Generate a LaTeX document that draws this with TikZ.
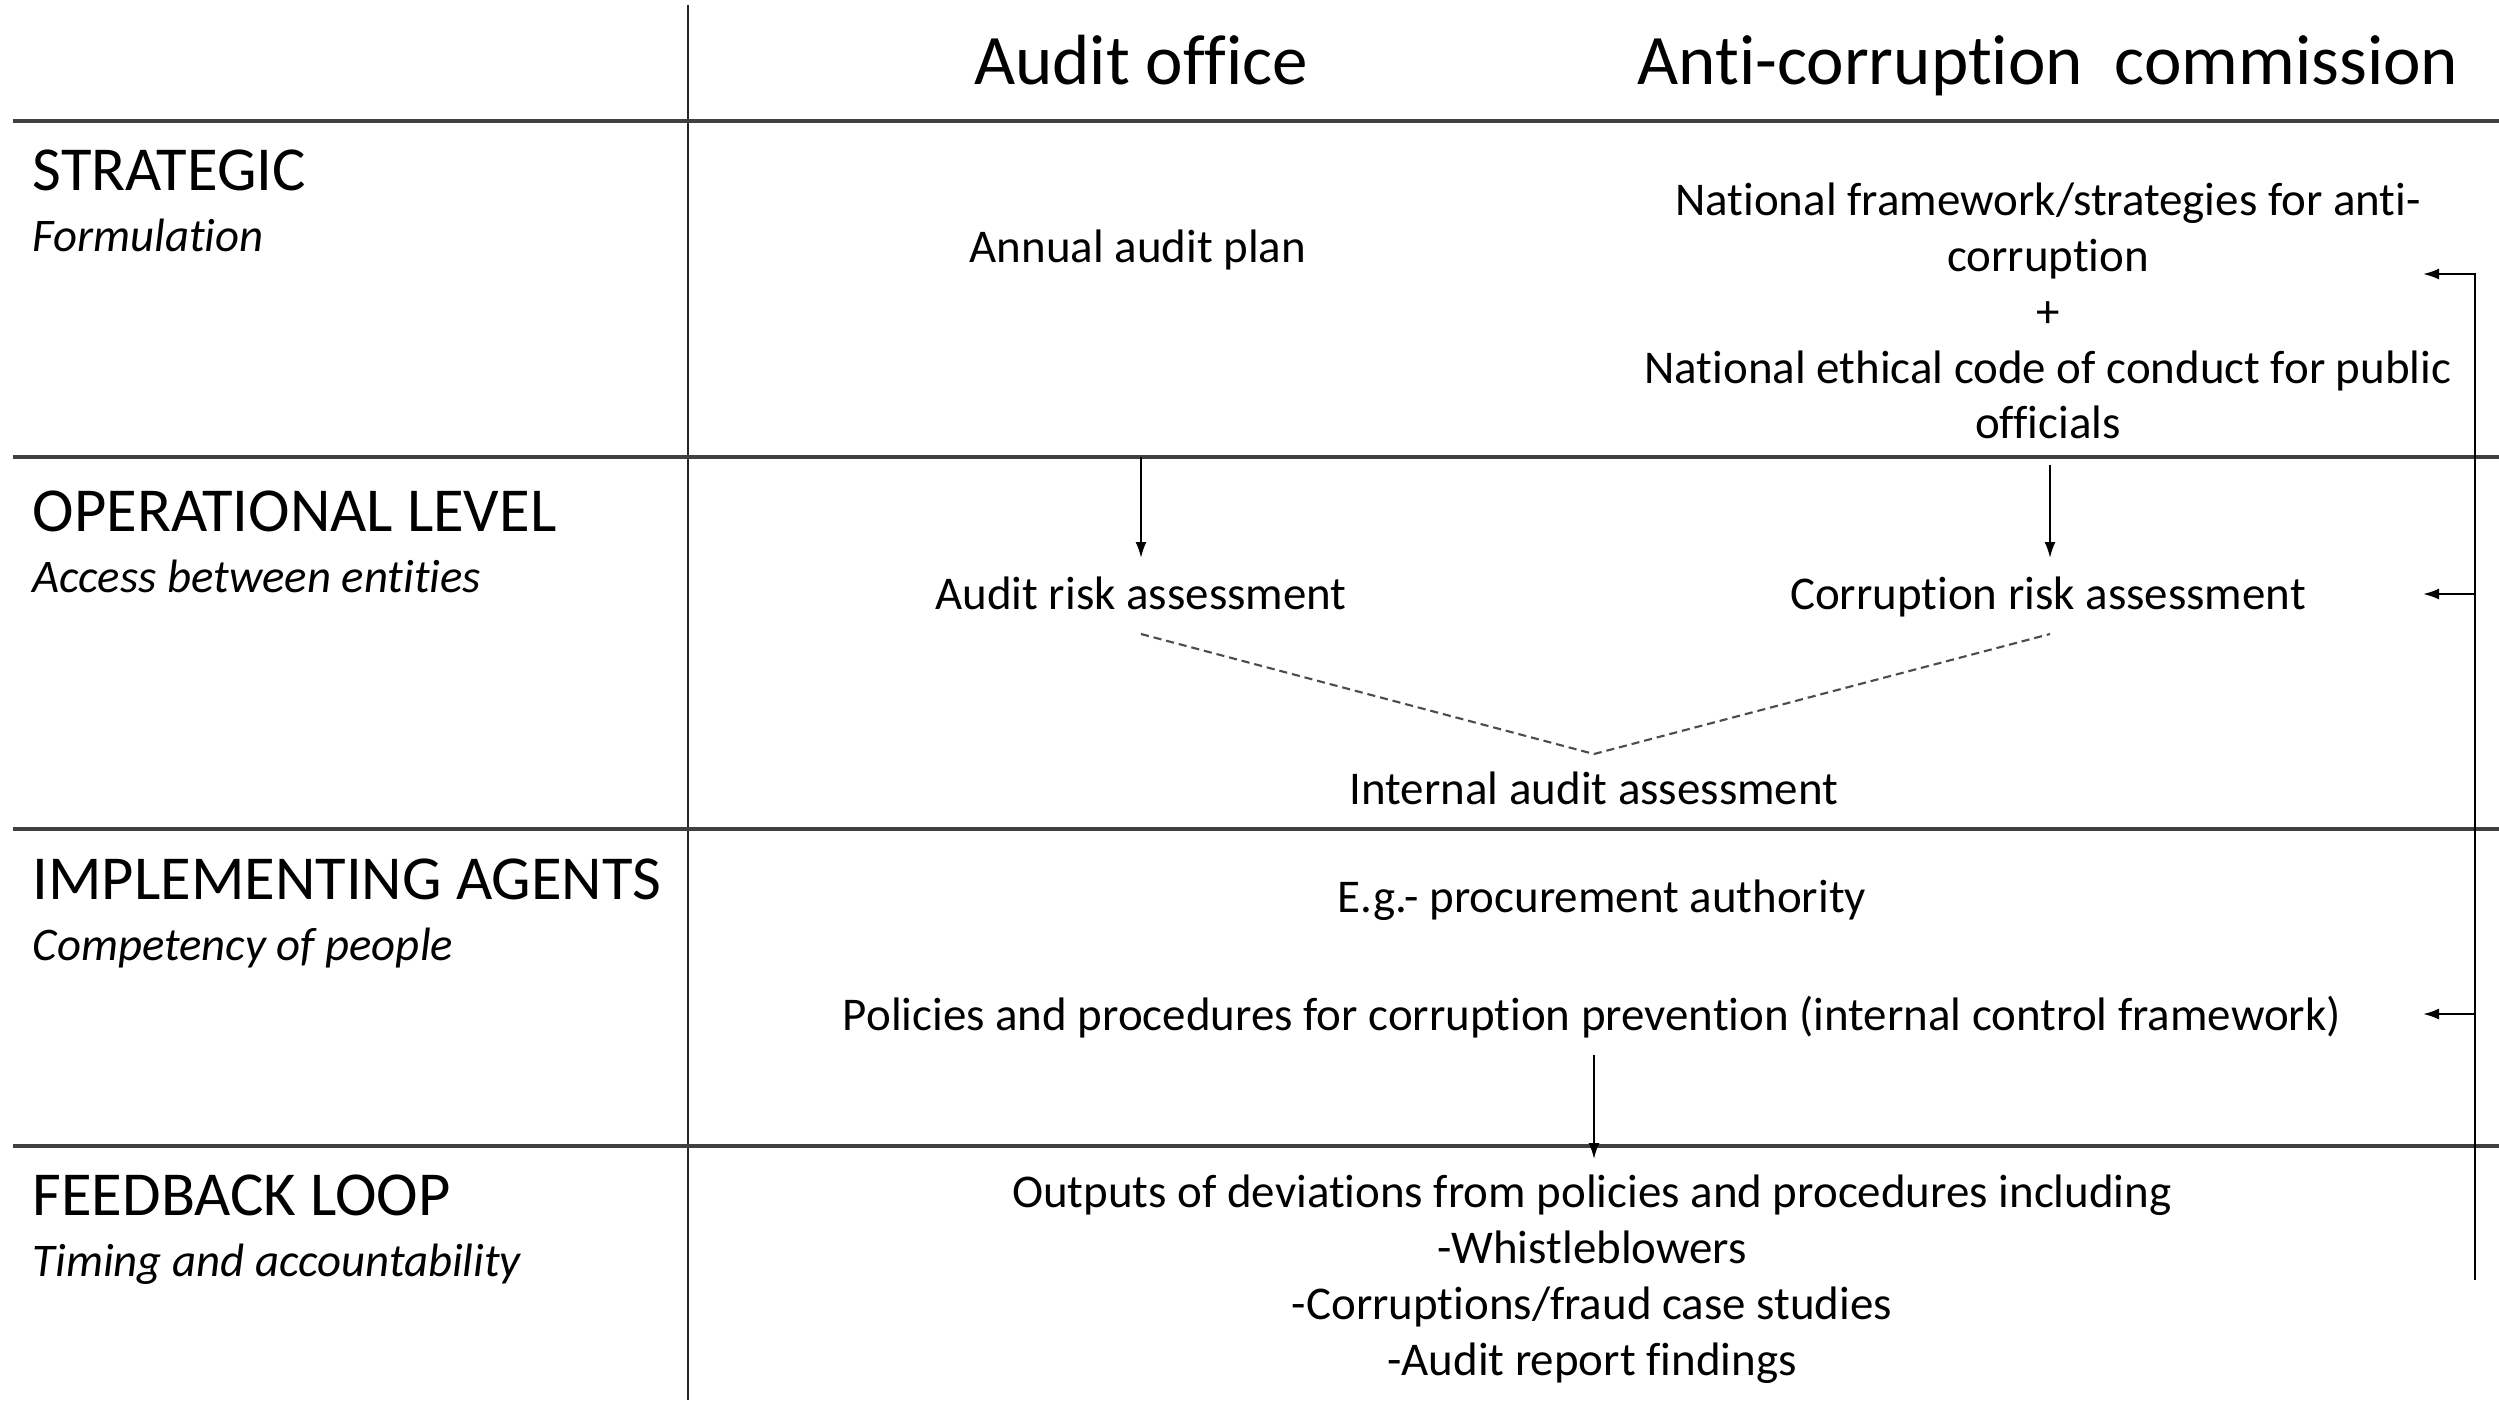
\documentclass[tikz,border=0pt]{standalone}
\usepackage{fontspec}
\setmainfont[Ligatures=NoCommon]{Carlito}
\usetikzlibrary{arrows.meta}
\begin{document}
\begin{tikzpicture}[x=0.01cm,y=-0.01cm,
  hdr/.style={font=\fontsize{20.2}{24}\selectfont, inner sep=0pt, anchor=base},
  lvl/.style={font=\fontsize{17.8}{21}\selectfont, inner sep=0pt, anchor=base west},
  sub/.style={font=\fontsize{13.3}{15.9}\selectfont\itshape, inner sep=0pt, anchor=base west},
  body/.style={font=\fontsize{13.35}{15.9}\selectfont, inner sep=0pt, anchor=base},
  blk/.style={font=\fontsize{13.35}{15.9}\selectfont, inner sep=0pt, align=center},
  rule/.style={line width=0.9pt, black!75},
  vrule/.style={line width=0.6pt, black!85},
  arr/.style={line width=0.6pt, -{Latex[length=0.16cm,width=0.11cm]}},
  dsh/.style={line width=0.6pt, black!70, dash pattern=on 2.3pt off 1.4pt}]
\useasboundingbox (0,0) rectangle (2499,1405);
\fill[white] (0,0) rectangle (2499,1405);

% grid
\draw[vrule] (688,5) coordinate (vt) -- (688,1400) coordinate (vb);
\foreach \yy/\nm in {121/h1,457/h2,829/h3,1146/h4}{
  \draw[rule] (13,\yy) coordinate (\nm l) -- (2499,\yy) coordinate (\nm r);
}

% headers
\node[hdr] (hao) at (1141,84) {Audit office};
\node[hdr] (hac) at (2048,84) {Anti-corruption\ \ commission};

% row labels
\node[lvl] (l1) at (32,190) {STRATEGIC};
\node[sub] (s1) at (32,251) {Formulation};
\node[lvl] (l2) at (32,531) {OPERATIONAL LEVEL};
\node[sub] (s2) at (32,592) {Access between entities};
\node[lvl] (l3) at (32,899) {IMPLEMENTING AGENTS};
\node[sub] (s3) at (32,960) {Competency of people};
\node[lvl] (l4) at (32,1215) {FEEDBACK LOOP};
\node[sub] (s4) at (32,1276) {Timing and accountability};

% strategic
\node[body] (aap) at (1138,262) {Annual audit plan};
\node[blk] (nat) at (2048,311) {National framework/strategies for anti-\\corruption\\+\\National ethical code of conduct for public\\officials};

% operational
\node[body] (ara) at (1141,609) {Audit risk assessment};
\node[body] (cra) at (2048,609) {Corruption risk assessment};
\node[body] (iaa) at (1594,804) {Internal audit assessment};

\coordinate (a1) at (1141,457);
\coordinate (a2) at (2050,465);
\draw[arr] (a1) -- (a1 |- 0,558);
\draw[arr] (a2) -- (a2 |- 0,558);

\coordinate (dl) at (1141,634);
\coordinate (dm) at (1594,754);
\coordinate (dr) at (2050,634);
\draw[dsh] (dl) -- (dm) -- (dr);

% implementing
\node[body] (eg) at (1602,912) {E.g.- procurement authority};
\node[body] (pol) at (1592,1030) {Policies and procedures for corruption prevention (internal control framework)};

% feedback
\node[blk] (out) at (1592,1279) {Outputs of deviations from policies and procedures including\\-Whistleblowers\\-Corruptions/fraud case studies\\-Audit report findings};

\coordinate (p1) at (1594,1055);
\coordinate (p2) at (1594,1159);
\draw[arr] (p1) -- (p2);

% feedback loop on the right
\coordinate (fb0) at (2475,1280);
\coordinate (fb1) at (2475,274);
\coordinate (fb2) at (2475,594);
\coordinate (fb3) at (2475,1014);
\draw[arr] (fb0) -- (fb1) -- (2423,274);
\draw[arr] (fb2) -- (2423,594);
\draw[arr] (fb3) -- (2423,1014);
\end{tikzpicture}
\end{document}
